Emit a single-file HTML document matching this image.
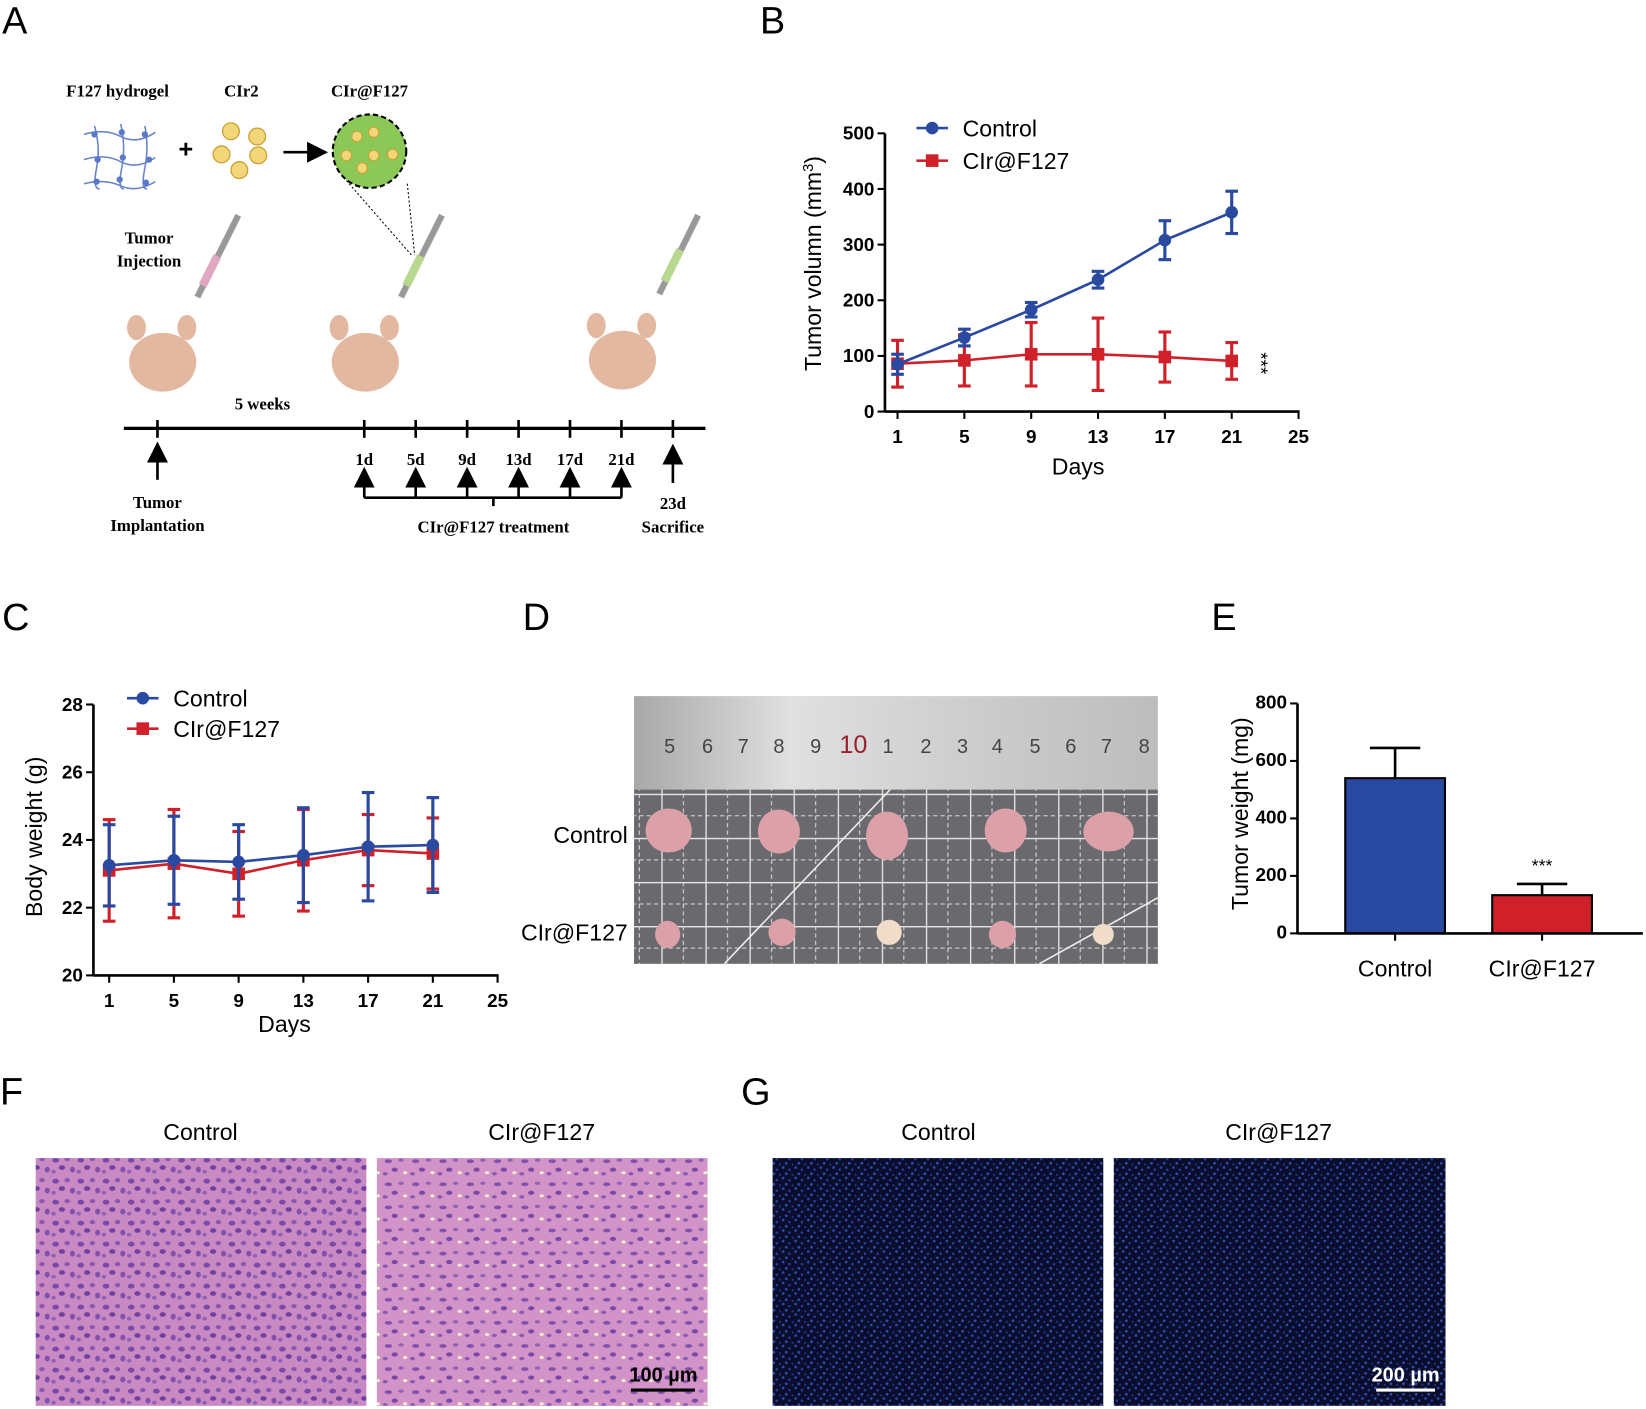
<!DOCTYPE html>
<html><head><meta charset="utf-8"><style>
html,body{margin:0;padding:0;background:#fff;}
svg{display:block;font-family:"Liberation Sans",Arial,sans-serif;}
.ser{font-family:"Liberation Serif",serif;font-weight:bold;font-size:16px;}
.tk{font-size:18px;font-weight:bold;}
.lt{font-size:22px;}
.pl{font-size:36px;}
</style></head><body>
<svg id="fig" width="1646" height="1409" viewBox="0 0 1568 1342" preserveAspectRatio="none" xmlns="http://www.w3.org/2000/svg">
<defs>
<pattern id="he" width="24" height="20" patternUnits="userSpaceOnUse">
<rect width="24" height="20" fill="#c98ac4"/>
<ellipse cx="5" cy="5" rx="3.2" ry="2.4" fill="#7a48a8"/>
<ellipse cx="16" cy="4" rx="2.6" ry="2" fill="#8a55b0"/>
<ellipse cx="11" cy="12" rx="3" ry="2.2" fill="#7040a0"/>
<ellipse cx="21" cy="14" rx="2.4" ry="2.8" fill="#8050ac"/>
<ellipse cx="3" cy="16" rx="2.2" ry="1.8" fill="#9060b4"/>
</pattern>
<pattern id="he2" width="26" height="22" patternUnits="userSpaceOnUse">
<rect width="26" height="22" fill="#d293c8"/>
<ellipse cx="6" cy="6" rx="3.5" ry="1.8" fill="#8050ac"/>
<ellipse cx="18" cy="5" rx="2.6" ry="1.6" fill="#9060b4"/>
<ellipse cx="12" cy="14" rx="3" ry="2" fill="#7848a6"/>
<ellipse cx="22" cy="17" rx="2" ry="1.4" fill="#f2f2d0"/>
<ellipse cx="3" cy="18" rx="2.4" ry="1.6" fill="#8858b0"/>
</pattern>
<pattern id="fl" width="12" height="10" patternUnits="userSpaceOnUse">
<rect width="12" height="10" fill="#0a0d2c"/>
<circle cx="2" cy="2" r="1.3" fill="#2c4aa8"/>
<circle cx="8" cy="4" r="1.2" fill="#2440a0"/>
<circle cx="5" cy="8" r="1.3" fill="#3050b0"/>
<circle cx="11" cy="9" r="1" fill="#203a90"/>
</pattern>
<pattern id="grid" width="42" height="42" patternUnits="userSpaceOnUse">
<rect width="42" height="42" fill="#6a6a6e"/>
<line x1="0" y1="0.5" x2="42" y2="0.5" stroke="#e8e8e8" stroke-width="1.5"/>
<line x1="0.5" y1="0" x2="0.5" y2="42" stroke="#e8e8e8" stroke-width="1.5"/>
<line x1="0" y1="21" x2="42" y2="21" stroke="#ddd" stroke-width="1" stroke-dasharray="4 3"/>
<line x1="21" y1="0" x2="21" y2="42" stroke="#ddd" stroke-width="1" stroke-dasharray="4 3"/>
</pattern>
<linearGradient id="rul" x1="0" x2="1"><stop offset="0" stop-color="#a8a8a8"/><stop offset="0.3" stop-color="#e0e0e0"/><stop offset="0.6" stop-color="#cfcfcf"/><stop offset="1" stop-color="#bdbdbd"/></linearGradient>
<marker id="arr" markerWidth="10" markerHeight="10" refX="5" refY="5" orient="auto"><path d="M0,1 L8,5 L0,9 Z" fill="#000"/></marker>
</defs>

<text class="pl" x="2" y="32">A</text>
<text class="pl" x="724" y="32">B</text>
<text class="pl" x="2" y="600">C</text>
<text class="pl" x="498" y="600">D</text>
<text class="pl" x="1154" y="600">E</text>
<text class="pl" x="0" y="1052">F</text>
<text class="pl" x="706" y="1052">G</text>

<g>
<text class="ser" x="112" y="92" text-anchor="middle">F127 hydrogel</text>
<text class="ser" x="230" y="92" text-anchor="middle">CIr2</text>
<text class="ser" x="352" y="92" text-anchor="middle">CIr@F127</text>
<g stroke="#6a84c8" stroke-width="1.5" fill="none">
<path d="M80,128 Q100,122 115,130 T148,126"/><path d="M80,152 Q100,146 115,154 T148,150"/><path d="M80,175 Q100,170 115,177 T148,173"/>
<path d="M90,120 Q96,140 92,160 T95,180"/><path d="M115,118 Q120,140 116,160 T118,180"/><path d="M138,120 Q142,140 138,160 T140,180"/>
</g>
<g fill="#5a78c8"><circle cx="90" cy="128" r="3"/><circle cx="116" cy="126" r="3"/><circle cx="138" cy="128" r="3"/><circle cx="93" cy="152" r="3"/><circle cx="117" cy="150" r="3"/><circle cx="142" cy="152" r="3"/><circle cx="92" cy="173" r="3"/><circle cx="114" cy="171" r="3"/><circle cx="139" cy="174" r="3"/></g>
<text x="177" y="150" font-size="24" font-weight="bold" text-anchor="middle">+</text>
<g fill="#f2d77a" stroke="#c9a030" stroke-width="1.2"><circle cx="220" cy="125" r="8"/><circle cx="245" cy="130" r="8"/><circle cx="211" cy="147" r="8"/><circle cx="246" cy="148" r="8"/><circle cx="228" cy="162" r="8"/></g>
<line x1="270" y1="145" x2="305" y2="145" stroke="#000" stroke-width="2.5" marker-end="url(#arr)"/>
<circle cx="352" cy="144" r="35" fill="#8cc858" stroke="#000" stroke-width="2" stroke-dasharray="5 3"/>
<g fill="#f2d77a" stroke="#c9a030"><circle cx="340" cy="130" r="5"/><circle cx="356" cy="126" r="5"/><circle cx="330" cy="148" r="5"/><circle cx="356" cy="148" r="5"/><circle cx="374" cy="147" r="5"/><circle cx="345" cy="160" r="5"/></g>
<path d="M330,172 L392,243 M388,175 L395,243" stroke="#000" stroke-dasharray="2 2" fill="none"/>
<text class="ser" x="142" y="232" text-anchor="middle">Tumor</text>
<text class="ser" x="142" y="254" text-anchor="middle">Injection</text>
<g>
<line x1="188" y1="283" x2="227" y2="205" stroke="#999" stroke-width="6"/><line x1="193" y1="272" x2="207" y2="244" stroke="#e0a8c0" stroke-width="8"/>
<line x1="382" y1="283" x2="421" y2="205" stroke="#999" stroke-width="6"/><line x1="387" y1="272" x2="401" y2="244" stroke="#b8d890" stroke-width="8"/>
<line x1="628" y1="280" x2="665" y2="205" stroke="#999" stroke-width="6"/><line x1="633" y1="268" x2="648" y2="238" stroke="#b8d890" stroke-width="8"/>
</g>
<g fill="#e2b9a0">
<ellipse cx="155" cy="345" rx="32" ry="28"/><ellipse cx="348" cy="345" rx="32" ry="28"/><ellipse cx="593" cy="343" rx="32" ry="28"/>
<ellipse cx="130" cy="312" rx="9" ry="12"/><ellipse cx="178" cy="312" rx="9" ry="12"/>
<ellipse cx="323" cy="312" rx="9" ry="12"/><ellipse cx="371" cy="312" rx="9" ry="12"/>
<ellipse cx="568" cy="310" rx="9" ry="12"/><ellipse cx="616" cy="310" rx="9" ry="12"/>
</g>
<text class="ser" x="250" y="390" text-anchor="middle">5 weeks</text>
<g>
<line x1="118" y1="408" x2="672" y2="408" stroke="#000" stroke-width="3"/>
<g stroke="#000" stroke-width="2.5"><line x1="150" y1="400" x2="150" y2="417"/><line x1="347" y1="400" x2="347" y2="417"/><line x1="396" y1="400" x2="396" y2="417"/><line x1="445" y1="400" x2="445" y2="417"/><line x1="494" y1="400" x2="494" y2="417"/><line x1="543" y1="400" x2="543" y2="417"/><line x1="592" y1="400" x2="592" y2="417"/><line x1="641" y1="400" x2="641" y2="417"/></g>
<g class="ser" text-anchor="middle"><text x="347" y="443">1d</text><text x="396" y="443">5d</text><text x="445" y="443">9d</text><text x="494" y="443">13d</text><text x="543" y="443">17d</text><text x="592" y="443">21d</text></g>
<g stroke="#000" stroke-width="2.5" fill="none"><line x1="150" y1="457" x2="150" y2="428" marker-end="url(#arr)"/><line x1="641" y1="460" x2="641" y2="430" marker-end="url(#arr)"/>
<path d="M347,474 L592,474 M470,474 L470,482"/>
<line x1="347" y1="474" x2="347" y2="452" marker-end="url(#arr)"/><line x1="396" y1="474" x2="396" y2="452" marker-end="url(#arr)"/><line x1="445" y1="474" x2="445" y2="452" marker-end="url(#arr)"/><line x1="494" y1="474" x2="494" y2="452" marker-end="url(#arr)"/><line x1="543" y1="474" x2="543" y2="452" marker-end="url(#arr)"/><line x1="592" y1="474" x2="592" y2="452" marker-end="url(#arr)"/></g>
<g class="ser" text-anchor="middle"><text x="150" y="484">Tumor</text><text x="150" y="506">Implantation</text><text x="470" y="507">CIr@F127 treatment</text><text x="641" y="485">23d</text><text x="641" y="507">Sacrifice</text></g>
</g>
</g>

<g id="chartB"></g>
<g id="chartC"></g>
<g id="chartE"></g>

<g>
<rect x="604" y="752" width="499" height="166" fill="url(#grid)"/>
<line x1="690" y1="918" x2="848" y2="752" stroke="#eee" stroke-width="1.5"/><line x1="990" y1="918" x2="1103" y2="855" stroke="#eee" stroke-width="1.5"/>
<rect x="604" y="663" width="499" height="89" fill="url(#rul)"/>
<g font-size="19" fill="#444" text-anchor="middle"><text x="638" y="717">5</text><text x="674" y="717">6</text><text x="708" y="717">7</text><text x="742" y="717">8</text><text x="777" y="717">9</text><text x="813" y="717" fill="#9a2030" font-size="24">10</text><text x="846" y="717">1</text><text x="882" y="717">2</text><text x="917" y="717">3</text><text x="950" y="717">4</text><text x="986" y="717">5</text><text x="1020" y="717">6</text><text x="1054" y="717">7</text><text x="1090" y="717">8</text></g>
<g fill="#dba0a8"><ellipse cx="637" cy="791" rx="22" ry="21"/><ellipse cx="742" cy="792" rx="20" ry="21"/><ellipse cx="845" cy="796" rx="20" ry="23"/><ellipse cx="958" cy="791" rx="20" ry="21"/><ellipse cx="1056" cy="792" rx="24" ry="19"/>
<ellipse cx="636" cy="890" rx="12" ry="13"/><ellipse cx="745" cy="888" rx="13" ry="13"/><ellipse cx="955" cy="890" rx="13" ry="13"/></g>
<g fill="#f0dcc8"><ellipse cx="847" cy="888" rx="12" ry="12"/><ellipse cx="1051" cy="890" rx="10" ry="10"/></g>
<text class="lt" x="598" y="803" text-anchor="end">Control</text>
<text class="lt" x="598" y="896" text-anchor="end">CIr@F127</text>
</g>

<g>
<text class="lt" x="191" y="1086" text-anchor="middle" font-size="25">Control</text>
<text class="lt" x="516" y="1086" text-anchor="middle" font-size="25">CIr@F127</text>
<rect x="34" y="1103" width="315" height="236" fill="url(#he)"/>
<rect x="359" y="1103" width="315" height="236" fill="url(#he2)"/>
<text x="632" y="1316" font-size="19" font-weight="bold" text-anchor="middle">100 µm</text>
<line x1="601" y1="1324" x2="662" y2="1324" stroke="#000" stroke-width="3"/>
</g>
<g>
<text class="lt" x="894" y="1086" text-anchor="middle" font-size="25">Control</text>
<text class="lt" x="1218" y="1086" text-anchor="middle" font-size="25">CIr@F127</text>
<rect x="736" y="1103" width="315" height="236" fill="url(#fl)"/>
<rect x="1061" y="1103" width="316" height="236" fill="url(#fl)"/>
<text x="1339" y="1316" font-size="19" font-weight="bold" fill="#fff" text-anchor="middle">200 µm</text>
<line x1="1311" y1="1324" x2="1367" y2="1324" stroke="#fff" stroke-width="3"/>
</g>
</svg>
<script>
const NS="http://www.w3.org/2000/svg";
const BLUE="#2a4aa2", RED="#d0202a";
// Panel B data
const bDays=[1,5,9,13,17,21];
const bCtrl=[85,133,183,237,308,358];
const bCtrlErr=[18,15,13,15,35,38];
const bTrt=[86,92,103,103,98,91];
const bTrtErr=[42,46,57,65,45,33];
const bXTicks=[1,5,9,13,17,21,25];
const bYTicks=[0,100,200,300,400,500];
// Panel C data
const cDays=[1,5,9,13,17,21];
const cCtrl=[23.25,23.4,23.35,23.55,23.8,23.85];
const cCtrlErr=[1.2,1.3,1.1,1.4,1.6,1.4];
const cTrt=[23.1,23.3,23.0,23.4,23.7,23.6];
const cTrtErr=[1.5,1.6,1.25,1.5,1.05,1.05];
const cXTicks=[1,5,9,13,17,21,25];
const cYTicks=[20,22,24,26,28];
// Panel E data
const eGroups=["Control","CIr@F127"];
const eVals=[540,133];
const eErrs=[105,39];
const eYTicks=[0,200,400,600,800];

function el(p,tag,a,txt){const e=document.createElementNS(NS,tag);for(const k in a)e.setAttribute(k,a[k]);if(txt!==undefined)e.textContent=txt;p.appendChild(e);return e;}

function lineChart(g,o,days,s1,e1,s2,e2,xt,yt,prefix){
  const X=d=>o.x0+(d-xt[0])/(xt[xt.length-1]-xt[0])*(o.x1-o.x0);
  const Y=v=>o.yb-(v-yt[0])/(yt[yt.length-1]-yt[0])*(o.yb-o.yt);
  el(g,'line',{x1:o.ax,y1:o.yt,x2:o.ax,y2:o.yb,stroke:'#000','stroke-width':2.5});
  el(g,'line',{x1:o.ax,y1:o.yb,x2:o.xend,y2:o.yb,stroke:'#000','stroke-width':2.5});
  yt.forEach(v=>{el(g,'line',{x1:o.ax-7,y1:Y(v),x2:o.ax,y2:Y(v),stroke:'#000','stroke-width':2});
    const t=el(g,'text',{x:o.ax-10,y:Y(v)+6,'text-anchor':'end',class:'tk'},v);
    
    });
  xt.forEach(v=>{el(g,'line',{x1:X(v),y1:o.yb,x2:X(v),y2:o.yb+7,stroke:'#000','stroke-width':2});
    const t=el(g,'text',{x:X(v),y:o.yb+30,'text-anchor':'middle',class:'tk'},v);
    
    });
  const series=[[s2,e2,RED,'sq','treatment'],[s1,e1,BLUE,'ci','control']];
  series.forEach(([s,e,c,m,nm])=>{
    const sg=el(g,'g',{});
    
    
    el(sg,'polyline',{points:days.map((d,i)=>X(d)+','+Y(s[i])).join(' '),fill:'none',stroke:c,'stroke-width':2.5});
    days.forEach((d,i)=>{
      const x=X(d);
      el(sg,'line',{x1:x,y1:Y(s[i]-e[i]),x2:x,y2:Y(s[i]+e[i]),stroke:c,'stroke-width':3});
      el(sg,'line',{x1:x-6,y1:Y(s[i]-e[i]),x2:x+6,y2:Y(s[i]-e[i]),stroke:c,'stroke-width':3});
      el(sg,'line',{x1:x-6,y1:Y(s[i]+e[i]),x2:x+6,y2:Y(s[i]+e[i]),stroke:c,'stroke-width':3});
      let mk;
      if(m==='ci') mk=el(sg,'circle',{cx:x,cy:Y(s[i]),r:6,fill:c});
      else mk=el(sg,'rect',{x:x-6,y:Y(s[i])-6,width:12,height:12,fill:c});
      
      
    });
  });
  return {X,Y};
}
function legend(g,x,y1,y2,prefix){
  const l1=el(g,'g',{});
  
  
  el(l1,'line',{x1:x,y1:y1,x2:x+30,y2:y1,stroke:BLUE,'stroke-width':2.5});
  el(l1,'circle',{cx:x+15,cy:y1,r:6,fill:BLUE});
  el(l1,'text',{x:x+44,y:y1+8,class:'lt'},'Control');
  const l2=el(g,'g',{});
  
  
  el(l2,'line',{x1:x,y1:y2,x2:x+30,y2:y2,stroke:RED,'stroke-width':2.5});
  el(l2,'rect',{x:x+9,y:y2-6,width:12,height:12,fill:RED});
  el(l2,'text',{x:x+44,y:y2+8,class:'lt'},'CIr@F127');
}
// B
const gB=document.getElementById('chartB');
lineChart(gB,{ax:843,x0:855,x1:1237,xend:1238,yt:127,yb:392},bDays,bCtrl,bCtrlErr,bTrt,bTrtErr,bXTicks,bYTicks,'b');
legend(gB,873,122,153,'b');
const bt=el(gB,'text',{x:1027,y:452,'text-anchor':'middle',class:'lt'},'Days');


const by=el(gB,'text',{transform:'translate(782,251) rotate(-90)','text-anchor':'middle',class:'lt'});


by.innerHTML='Tumor volumn (mm<tspan baseline-shift="super" font-size="14">3</tspan>)';
el(gB,'text',{transform:'translate(1195,346) rotate(90)','text-anchor':'middle','font-size':18},'***');
// C
const gC=document.getElementById('chartC');
lineChart(gC,{ax:89,x0:104,x1:474,xend:475,yt:671,yb:929},cDays,cCtrl,cCtrlErr,cTrt,cTrtErr,cXTicks,cYTicks,'c');
legend(gC,121,665,694,'c');
const ct=el(gC,'text',{x:271,y:983,'text-anchor':'middle',class:'lt'},'Days');


const cy=el(gC,'text',{transform:'translate(40,797) rotate(-90)','text-anchor':'middle',class:'lt'},'Body weight (g)');


// E
const gE=document.getElementById('chartE');
(function(){
  const ax=1236, yt=670, yb=889, xend=1565;
  const Y=v=>yb-(v-eYTicks[0])/(eYTicks[eYTicks.length-1]-eYTicks[0])*(yb-yt);
  const cx=[1329,1469], bw=95, cols=[BLUE,RED];
  eGroups.forEach((gname,i)=>{
    const x=cx[i];
    el(gE,'line',{x1:x,y1:Y(eVals[i]),x2:x,y2:Y(eVals[i]+eErrs[i]),stroke:'#000','stroke-width':2.5});
    el(gE,'line',{x1:x-24,y1:Y(eVals[i]+eErrs[i]),x2:x+24,y2:Y(eVals[i]+eErrs[i]),stroke:'#000','stroke-width':2.5});
    const r=el(gE,'rect',{x:x-bw/2,y:Y(eVals[i]),width:bw,height:yb-Y(eVals[i]),fill:cols[i],stroke:'#000','stroke-width':2});
    
    
    el(gE,'line',{x1:x,y1:yb,x2:x,y2:yb+7,stroke:'#000','stroke-width':2});
    const t=el(gE,'text',{x:x,y:930,'text-anchor':'middle',class:'lt'},gname);
    
    
  });
  el(gE,'text',{x:cx[1],y:Y(eVals[1]+eErrs[1])-12,'text-anchor':'middle','font-size':17},'***');
  el(gE,'line',{x1:ax,y1:yt,x2:ax,y2:yb,stroke:'#000','stroke-width':2.5});
  el(gE,'line',{x1:ax,y1:yb,x2:xend,y2:yb,stroke:'#000','stroke-width':2.5});
  eYTicks.forEach(v=>{el(gE,'line',{x1:ax-7,y1:Y(v),x2:ax,y2:Y(v),stroke:'#000','stroke-width':2});
    const t=el(gE,'text',{x:ax-10,y:Y(v)+5,'text-anchor':'end',class:'tk','font-size':15},v);
    
    });
  const yl=el(gE,'text',{transform:'translate(1189,775) rotate(-90)','text-anchor':'middle',class:'lt'},'Tumor weight (mg)');
  
  
})();
</script>
</body></html>
